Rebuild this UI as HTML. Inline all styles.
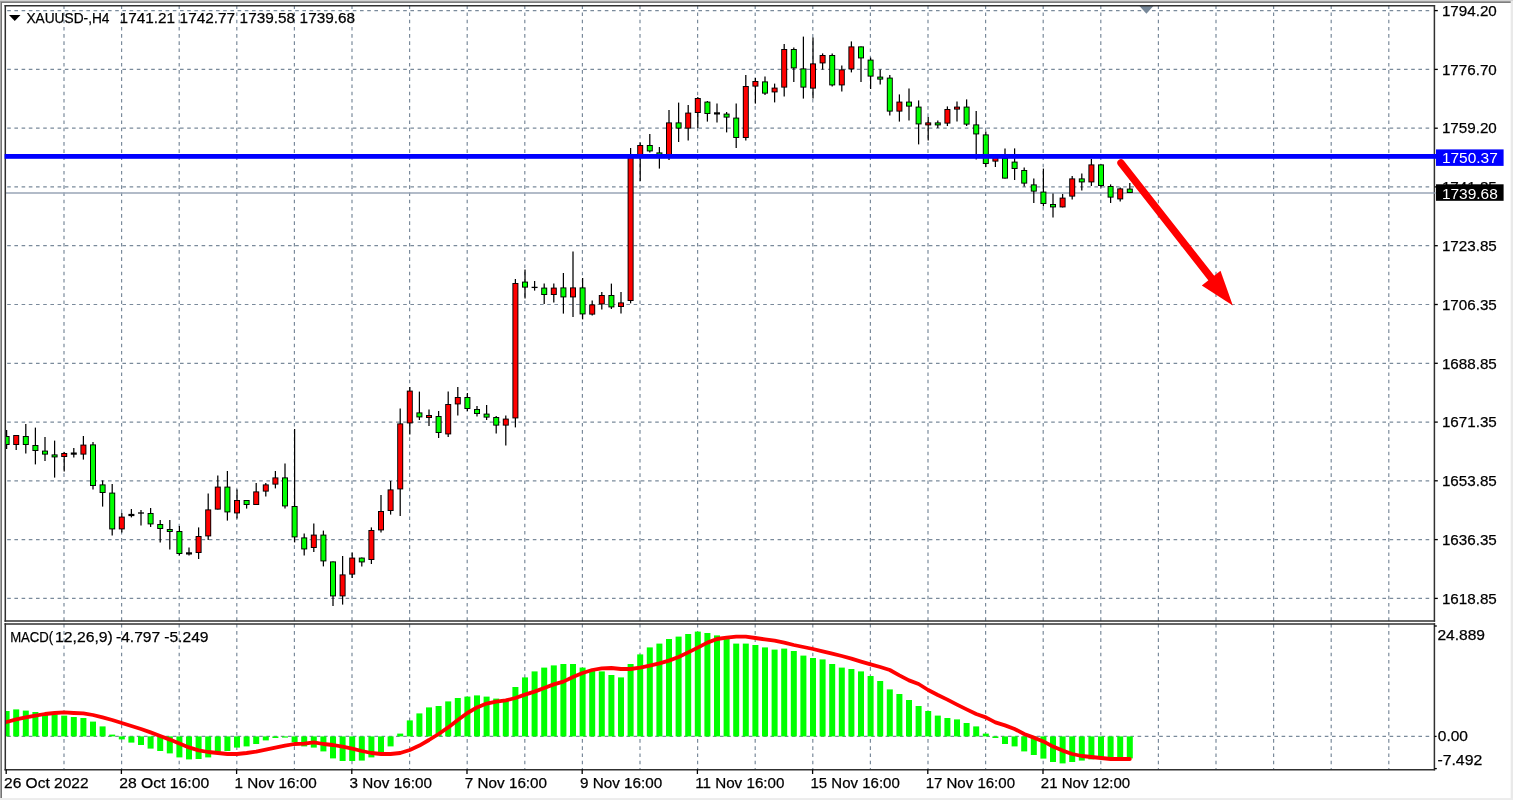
<!DOCTYPE html>
<html lang="en"><head><meta charset="utf-8"><title>XAUUSD-,H4</title>
<style>html,body{margin:0;padding:0;background:#fff;overflow:hidden}svg{display:block}text{font-family:"Liberation Sans",sans-serif;font-size:15.5px;fill:#000;stroke:#000;stroke-width:0.25px}</style>
</head><body>
<svg width="1513" height="800" viewBox="0 0 1513 800">
<rect x="0" y="0" width="1513" height="800" fill="#fff"/>
<g stroke="#7a8a9b" stroke-width="1.2" stroke-dasharray="3.6 3.6" fill="none">
<line x1="64.0" y1="5.3" x2="64.0" y2="621.0"/>
<line x1="64.0" y1="623.9" x2="64.0" y2="769.6"/>
<line x1="121.6" y1="5.3" x2="121.6" y2="621.0"/>
<line x1="121.6" y1="623.9" x2="121.6" y2="769.6"/>
<line x1="179.2" y1="5.3" x2="179.2" y2="621.0"/>
<line x1="179.2" y1="623.9" x2="179.2" y2="769.6"/>
<line x1="236.8" y1="5.3" x2="236.8" y2="621.0"/>
<line x1="236.8" y1="623.9" x2="236.8" y2="769.6"/>
<line x1="294.4" y1="5.3" x2="294.4" y2="621.0"/>
<line x1="294.4" y1="623.9" x2="294.4" y2="769.6"/>
<line x1="352.0" y1="5.3" x2="352.0" y2="621.0"/>
<line x1="352.0" y1="623.9" x2="352.0" y2="769.6"/>
<line x1="409.6" y1="5.3" x2="409.6" y2="621.0"/>
<line x1="409.6" y1="623.9" x2="409.6" y2="769.6"/>
<line x1="467.2" y1="5.3" x2="467.2" y2="621.0"/>
<line x1="467.2" y1="623.9" x2="467.2" y2="769.6"/>
<line x1="524.8" y1="5.3" x2="524.8" y2="621.0"/>
<line x1="524.8" y1="623.9" x2="524.8" y2="769.6"/>
<line x1="582.4" y1="5.3" x2="582.4" y2="621.0"/>
<line x1="582.4" y1="623.9" x2="582.4" y2="769.6"/>
<line x1="640.0" y1="5.3" x2="640.0" y2="621.0"/>
<line x1="640.0" y1="623.9" x2="640.0" y2="769.6"/>
<line x1="697.6" y1="5.3" x2="697.6" y2="621.0"/>
<line x1="697.6" y1="623.9" x2="697.6" y2="769.6"/>
<line x1="755.2" y1="5.3" x2="755.2" y2="621.0"/>
<line x1="755.2" y1="623.9" x2="755.2" y2="769.6"/>
<line x1="812.8" y1="5.3" x2="812.8" y2="621.0"/>
<line x1="812.8" y1="623.9" x2="812.8" y2="769.6"/>
<line x1="870.4" y1="5.3" x2="870.4" y2="621.0"/>
<line x1="870.4" y1="623.9" x2="870.4" y2="769.6"/>
<line x1="928.0" y1="5.3" x2="928.0" y2="621.0"/>
<line x1="928.0" y1="623.9" x2="928.0" y2="769.6"/>
<line x1="985.6" y1="5.3" x2="985.6" y2="621.0"/>
<line x1="985.6" y1="623.9" x2="985.6" y2="769.6"/>
<line x1="1043.2" y1="5.3" x2="1043.2" y2="621.0"/>
<line x1="1043.2" y1="623.9" x2="1043.2" y2="769.6"/>
<line x1="1100.8" y1="5.3" x2="1100.8" y2="621.0"/>
<line x1="1100.8" y1="623.9" x2="1100.8" y2="769.6"/>
<line x1="1158.4" y1="5.3" x2="1158.4" y2="621.0"/>
<line x1="1158.4" y1="623.9" x2="1158.4" y2="769.6"/>
<line x1="1216.0" y1="5.3" x2="1216.0" y2="621.0"/>
<line x1="1216.0" y1="623.9" x2="1216.0" y2="769.6"/>
<line x1="1273.6" y1="5.3" x2="1273.6" y2="621.0"/>
<line x1="1273.6" y1="623.9" x2="1273.6" y2="769.6"/>
<line x1="1331.2" y1="5.3" x2="1331.2" y2="621.0"/>
<line x1="1331.2" y1="623.9" x2="1331.2" y2="769.6"/>
<line x1="1388.8" y1="5.3" x2="1388.8" y2="621.0"/>
<line x1="1388.8" y1="623.9" x2="1388.8" y2="769.6"/>
<line x1="0" y1="10.6" x2="1431" y2="10.6"/>
<line x1="0" y1="69.4" x2="1431" y2="69.4"/>
<line x1="0" y1="128.2" x2="1431" y2="128.2"/>
<line x1="0" y1="186.9" x2="1431" y2="186.9"/>
<line x1="0" y1="245.7" x2="1431" y2="245.7"/>
<line x1="0" y1="304.5" x2="1431" y2="304.5"/>
<line x1="0" y1="363.3" x2="1431" y2="363.3"/>
<line x1="0" y1="422.1" x2="1431" y2="422.1"/>
<line x1="0" y1="480.8" x2="1431" y2="480.8"/>
<line x1="0" y1="539.6" x2="1431" y2="539.6"/>
<line x1="0" y1="598.4" x2="1431" y2="598.4"/>
<line x1="0" y1="736.4" x2="1431" y2="736.4"/>
</g>
<line x1="5.3" y1="193.0" x2="1434" y2="193.0" stroke="#98a5b6" stroke-width="1.3"/>
<g fill="#00ff00">
<rect x="5.6" y="711.0" width="4.0" height="25.4"/>
<rect x="13.2" y="709.4" width="6.0" height="27.0"/>
<rect x="22.8" y="710.6" width="6.0" height="25.8"/>
<rect x="32.4" y="712.0" width="6.0" height="24.4"/>
<rect x="42.0" y="714.0" width="6.0" height="22.4"/>
<rect x="51.6" y="714.4" width="6.0" height="22.0"/>
<rect x="61.2" y="715.6" width="6.0" height="20.8"/>
<rect x="70.8" y="717.0" width="6.0" height="19.4"/>
<rect x="80.4" y="718.0" width="6.0" height="18.4"/>
<rect x="90.0" y="721.6" width="6.0" height="14.8"/>
<rect x="99.6" y="726.4" width="6.0" height="10.0"/>
<rect x="109.2" y="734.6" width="6.0" height="1.8"/>
<rect x="118.8" y="736.4" width="6.0" height="3.0"/>
<rect x="128.4" y="736.4" width="6.0" height="6.2"/>
<rect x="138.0" y="736.4" width="6.0" height="8.6"/>
<rect x="147.6" y="736.4" width="6.0" height="12.2"/>
<rect x="157.2" y="736.4" width="6.0" height="14.6"/>
<rect x="166.8" y="736.4" width="6.0" height="17.0"/>
<rect x="176.4" y="736.4" width="6.0" height="21.0"/>
<rect x="186.0" y="736.4" width="6.0" height="23.0"/>
<rect x="195.6" y="736.4" width="6.0" height="22.6"/>
<rect x="205.2" y="736.4" width="6.0" height="21.0"/>
<rect x="214.8" y="736.4" width="6.0" height="17.2"/>
<rect x="224.4" y="736.4" width="6.0" height="14.6"/>
<rect x="234.0" y="736.4" width="6.0" height="11.2"/>
<rect x="243.6" y="736.4" width="6.0" height="10.0"/>
<rect x="253.2" y="736.4" width="6.0" height="7.6"/>
<rect x="262.8" y="736.4" width="6.0" height="4.0"/>
<rect x="272.4" y="736.4" width="6.0" height="1.6"/>
<rect x="282.0" y="736.4" width="6.0" height="1.2"/>
<rect x="291.6" y="736.4" width="6.0" height="6.0"/>
<rect x="301.2" y="736.4" width="6.0" height="10.0"/>
<rect x="310.8" y="736.4" width="6.0" height="11.2"/>
<rect x="320.4" y="736.4" width="6.0" height="15.0"/>
<rect x="330.0" y="736.4" width="6.0" height="22.0"/>
<rect x="339.6" y="736.4" width="6.0" height="24.6"/>
<rect x="349.2" y="736.4" width="6.0" height="24.6"/>
<rect x="358.8" y="736.4" width="6.0" height="24.2"/>
<rect x="368.4" y="736.4" width="6.0" height="21.0"/>
<rect x="378.0" y="736.4" width="6.0" height="17.2"/>
<rect x="387.6" y="736.4" width="6.0" height="10.0"/>
<rect x="397.2" y="733.6" width="6.0" height="2.8"/>
<rect x="406.8" y="720.4" width="6.0" height="16.0"/>
<rect x="416.4" y="713.4" width="6.0" height="23.0"/>
<rect x="426.0" y="707.4" width="6.0" height="29.0"/>
<rect x="435.6" y="706.0" width="6.0" height="30.4"/>
<rect x="445.2" y="701.4" width="6.0" height="35.0"/>
<rect x="454.8" y="698.0" width="6.0" height="38.4"/>
<rect x="464.4" y="696.6" width="6.0" height="39.8"/>
<rect x="474.0" y="695.4" width="6.0" height="41.0"/>
<rect x="483.6" y="696.6" width="6.0" height="39.8"/>
<rect x="493.2" y="698.6" width="6.0" height="37.8"/>
<rect x="502.8" y="699.2" width="6.0" height="37.2"/>
<rect x="512.4" y="687.0" width="6.0" height="49.4"/>
<rect x="522.0" y="677.4" width="6.0" height="59.0"/>
<rect x="531.6" y="671.4" width="6.0" height="65.0"/>
<rect x="541.2" y="667.6" width="6.0" height="68.8"/>
<rect x="550.8" y="665.4" width="6.0" height="71.0"/>
<rect x="560.4" y="664.0" width="6.0" height="72.4"/>
<rect x="570.0" y="664.0" width="6.0" height="72.4"/>
<rect x="579.6" y="667.6" width="6.0" height="68.8"/>
<rect x="589.2" y="670.4" width="6.0" height="66.0"/>
<rect x="598.8" y="671.4" width="6.0" height="65.0"/>
<rect x="608.4" y="675.0" width="6.0" height="61.4"/>
<rect x="618.0" y="677.4" width="6.0" height="59.0"/>
<rect x="627.6" y="664.0" width="6.0" height="72.4"/>
<rect x="637.2" y="654.4" width="6.0" height="82.0"/>
<rect x="646.8" y="647.4" width="6.0" height="89.0"/>
<rect x="656.4" y="643.6" width="6.0" height="92.8"/>
<rect x="666.0" y="639.0" width="6.0" height="97.4"/>
<rect x="675.6" y="636.6" width="6.0" height="99.8"/>
<rect x="685.2" y="634.0" width="6.0" height="102.4"/>
<rect x="694.8" y="631.6" width="6.0" height="104.8"/>
<rect x="704.4" y="633.0" width="6.0" height="103.4"/>
<rect x="714.0" y="635.4" width="6.0" height="101.0"/>
<rect x="723.6" y="639.0" width="6.0" height="97.4"/>
<rect x="733.2" y="643.6" width="6.0" height="92.8"/>
<rect x="742.8" y="643.6" width="6.0" height="92.8"/>
<rect x="752.4" y="645.0" width="6.0" height="91.4"/>
<rect x="762.0" y="647.4" width="6.0" height="89.0"/>
<rect x="771.6" y="649.6" width="6.0" height="86.8"/>
<rect x="781.2" y="648.6" width="6.0" height="87.8"/>
<rect x="790.8" y="651.0" width="6.0" height="85.4"/>
<rect x="800.4" y="655.6" width="6.0" height="80.8"/>
<rect x="810.0" y="658.0" width="6.0" height="78.4"/>
<rect x="819.6" y="659.4" width="6.0" height="77.0"/>
<rect x="829.2" y="664.0" width="6.0" height="72.4"/>
<rect x="838.8" y="667.6" width="6.0" height="68.8"/>
<rect x="848.4" y="669.0" width="6.0" height="67.4"/>
<rect x="858.0" y="671.4" width="6.0" height="65.0"/>
<rect x="867.6" y="676.0" width="6.0" height="60.4"/>
<rect x="877.2" y="681.0" width="6.0" height="55.4"/>
<rect x="886.8" y="689.4" width="6.0" height="47.0"/>
<rect x="896.4" y="694.0" width="6.0" height="42.4"/>
<rect x="906.0" y="700.0" width="6.0" height="36.4"/>
<rect x="915.6" y="706.0" width="6.0" height="30.4"/>
<rect x="925.2" y="711.0" width="6.0" height="25.4"/>
<rect x="934.8" y="715.6" width="6.0" height="20.8"/>
<rect x="944.4" y="718.0" width="6.0" height="18.4"/>
<rect x="954.0" y="719.4" width="6.0" height="17.0"/>
<rect x="963.6" y="723.0" width="6.0" height="13.4"/>
<rect x="973.2" y="726.4" width="6.0" height="10.0"/>
<rect x="982.8" y="733.6" width="6.0" height="2.8"/>
<rect x="992.4" y="736.4" width="6.0" height="1.6"/>
<rect x="1002.0" y="736.4" width="6.0" height="7.6"/>
<rect x="1011.6" y="736.4" width="6.0" height="10.0"/>
<rect x="1021.2" y="736.4" width="6.0" height="15.0"/>
<rect x="1030.8" y="736.4" width="6.0" height="18.6"/>
<rect x="1040.4" y="736.4" width="6.0" height="22.2"/>
<rect x="1050.0" y="736.4" width="6.0" height="25.6"/>
<rect x="1059.6" y="736.4" width="6.0" height="27.0"/>
<rect x="1069.2" y="736.4" width="6.0" height="25.6"/>
<rect x="1078.8" y="736.4" width="6.0" height="24.2"/>
<rect x="1088.4" y="736.4" width="6.0" height="23.0"/>
<rect x="1098.0" y="736.4" width="6.0" height="22.4"/>
<rect x="1107.6" y="736.4" width="6.0" height="22.4"/>
<rect x="1117.2" y="736.4" width="6.0" height="22.0"/>
<rect x="1126.8" y="736.4" width="6.0" height="22.0"/>
</g>
<polyline points="6.6,722.0 16.2,719.4 25.8,717.4 35.4,715.6 45.0,714.0 54.6,713.0 64.2,712.4 73.8,713.0 83.4,713.4 93.0,715.0 102.6,717.4 112.2,720.0 121.8,723.0 131.4,726.0 141.0,729.0 150.6,732.4 160.2,736.0 169.8,739.6 179.4,743.6 189.0,747.4 198.6,750.4 208.2,752.0 217.8,753.0 227.4,754.0 237.0,754.0 246.6,753.0 256.2,751.6 265.8,749.6 275.4,747.6 285.0,745.6 294.6,744.0 304.2,743.6 313.8,742.4 323.4,744.0 333.0,745.0 342.6,746.6 352.2,748.6 361.8,751.0 371.4,753.0 381.0,754.0 390.6,754.0 400.2,753.0 409.8,750.0 419.4,745.6 429.0,740.0 438.6,734.0 448.2,727.4 457.8,720.0 467.4,713.0 477.0,707.4 486.6,703.6 496.2,701.6 505.8,700.4 515.4,698.0 525.0,694.6 534.6,691.6 544.2,688.0 553.8,684.4 563.4,681.6 573.0,677.0 582.6,673.0 592.2,670.0 601.8,668.4 611.4,668.0 621.0,669.0 630.6,669.0 640.2,667.6 649.8,665.6 659.4,663.4 669.0,660.6 678.6,657.0 688.2,652.4 697.8,647.6 707.4,642.6 717.0,639.0 726.6,637.6 736.2,636.6 745.8,636.6 755.4,638.0 765.0,639.4 774.6,640.6 784.2,642.6 793.8,645.0 803.4,647.0 813.0,649.0 822.6,651.4 832.2,653.6 841.8,656.0 851.4,658.6 861.0,661.6 870.6,664.4 880.2,667.0 889.8,670.0 899.4,675.4 909.0,680.4 918.6,684.0 928.2,690.0 937.8,695.0 947.4,699.6 957.0,704.6 966.6,709.4 976.2,714.0 985.8,717.4 995.4,722.4 1005.0,725.4 1014.6,729.0 1024.2,734.0 1033.8,737.6 1043.4,741.4 1053.0,746.6 1062.6,750.6 1072.2,754.0 1081.8,756.0 1091.4,757.0 1101.0,758.0 1110.6,759.0 1120.2,759.0 1129.8,759.0" fill="none" stroke="#ff0000" stroke-width="3.8" stroke-linejoin="round" stroke-linecap="round"/>
<g stroke="#000" stroke-width="1.25">
<line x1="6.6" y1="430.0" x2="6.6" y2="449.0"/>
<line x1="16.2" y1="435.0" x2="16.2" y2="450.0"/>
<line x1="25.8" y1="424.0" x2="25.8" y2="453.6"/>
<line x1="35.4" y1="427.6" x2="35.4" y2="464.4"/>
<line x1="45.0" y1="437.0" x2="45.0" y2="461.0"/>
<line x1="54.6" y1="440.6" x2="54.6" y2="477.6"/>
<line x1="64.2" y1="452.0" x2="64.2" y2="471.6"/>
<line x1="73.8" y1="448.0" x2="73.8" y2="457.6"/>
<line x1="83.4" y1="436.0" x2="83.4" y2="459.6"/>
<line x1="93.0" y1="442.0" x2="93.0" y2="489.6"/>
<line x1="102.6" y1="480.4" x2="102.6" y2="506.6"/>
<line x1="112.2" y1="484.0" x2="112.2" y2="535.4"/>
<line x1="121.8" y1="513.0" x2="121.8" y2="532.4"/>
<line x1="131.4" y1="509.0" x2="131.4" y2="517.4"/>
<line x1="141.0" y1="510.0" x2="141.0" y2="525.6"/>
<line x1="150.6" y1="508.0" x2="150.6" y2="527.0"/>
<line x1="160.2" y1="520.0" x2="160.2" y2="542.4"/>
<line x1="169.8" y1="520.0" x2="169.8" y2="549.6"/>
<line x1="179.4" y1="526.0" x2="179.4" y2="555.4"/>
<line x1="189.0" y1="547.6" x2="189.0" y2="555.4"/>
<line x1="198.6" y1="527.4" x2="198.6" y2="559.0"/>
<line x1="208.2" y1="493.6" x2="208.2" y2="540.0"/>
<line x1="217.8" y1="475.6" x2="217.8" y2="509.6"/>
<line x1="227.4" y1="471.0" x2="227.4" y2="520.6"/>
<line x1="237.0" y1="489.6" x2="237.0" y2="518.6"/>
<line x1="246.6" y1="500.0" x2="246.6" y2="508.6"/>
<line x1="256.2" y1="483.0" x2="256.2" y2="505.0"/>
<line x1="265.8" y1="483.0" x2="265.8" y2="496.6"/>
<line x1="275.4" y1="471.0" x2="275.4" y2="488.4"/>
<line x1="285.0" y1="463.6" x2="285.0" y2="508.6"/>
<line x1="294.6" y1="429.0" x2="294.6" y2="542.4"/>
<line x1="304.2" y1="533.4" x2="304.2" y2="555.6"/>
<line x1="313.8" y1="523.6" x2="313.8" y2="552.0"/>
<line x1="323.4" y1="530.6" x2="323.4" y2="566.4"/>
<line x1="333.0" y1="561.4" x2="333.0" y2="606.0"/>
<line x1="342.6" y1="556.0" x2="342.6" y2="604.6"/>
<line x1="352.2" y1="552.6" x2="352.2" y2="578.0"/>
<line x1="361.8" y1="557.6" x2="361.8" y2="566.4"/>
<line x1="371.4" y1="527.4" x2="371.4" y2="564.0"/>
<line x1="381.0" y1="495.0" x2="381.0" y2="532.6"/>
<line x1="390.6" y1="481.0" x2="390.6" y2="514.6"/>
<line x1="400.2" y1="408.4" x2="400.2" y2="516.0"/>
<line x1="409.8" y1="387.0" x2="409.8" y2="434.4"/>
<line x1="419.4" y1="391.6" x2="419.4" y2="420.0"/>
<line x1="429.0" y1="409.6" x2="429.0" y2="426.0"/>
<line x1="438.6" y1="411.0" x2="438.6" y2="438.0"/>
<line x1="448.2" y1="391.6" x2="448.2" y2="437.0"/>
<line x1="457.8" y1="387.0" x2="457.8" y2="415.4"/>
<line x1="467.4" y1="393.0" x2="467.4" y2="411.0"/>
<line x1="477.0" y1="406.0" x2="477.0" y2="416.6"/>
<line x1="486.6" y1="405.0" x2="486.6" y2="420.0"/>
<line x1="496.2" y1="416.0" x2="496.2" y2="433.4"/>
<line x1="505.8" y1="415.6" x2="505.8" y2="445.6"/>
<line x1="515.4" y1="279.0" x2="515.4" y2="427.4"/>
<line x1="525.0" y1="269.6" x2="525.0" y2="298.6"/>
<line x1="534.6" y1="281.0" x2="534.6" y2="290.6"/>
<line x1="544.2" y1="283.6" x2="544.2" y2="304.0"/>
<line x1="553.8" y1="283.6" x2="553.8" y2="302.6"/>
<line x1="563.4" y1="273.0" x2="563.4" y2="313.6"/>
<line x1="573.0" y1="251.4" x2="573.0" y2="317.0"/>
<line x1="582.6" y1="278.0" x2="582.6" y2="319.4"/>
<line x1="592.2" y1="300.6" x2="592.2" y2="315.6"/>
<line x1="601.8" y1="292.0" x2="601.8" y2="309.6"/>
<line x1="611.4" y1="283.6" x2="611.4" y2="309.0"/>
<line x1="621.0" y1="292.0" x2="621.0" y2="313.6"/>
<line x1="630.6" y1="148.0" x2="630.6" y2="303.4"/>
<line x1="640.2" y1="142.4" x2="640.2" y2="181.0"/>
<line x1="649.8" y1="134.0" x2="649.8" y2="152.6"/>
<line x1="659.4" y1="147.0" x2="659.4" y2="168.6"/>
<line x1="669.0" y1="110.0" x2="669.0" y2="160.0"/>
<line x1="678.6" y1="102.6" x2="678.6" y2="142.0"/>
<line x1="688.2" y1="105.0" x2="688.2" y2="140.6"/>
<line x1="697.8" y1="97.0" x2="697.8" y2="128.0"/>
<line x1="707.4" y1="101.0" x2="707.4" y2="121.6"/>
<line x1="717.0" y1="103.6" x2="717.0" y2="122.6"/>
<line x1="726.6" y1="112.0" x2="726.6" y2="132.4"/>
<line x1="736.2" y1="103.6" x2="736.2" y2="148.0"/>
<line x1="745.8" y1="75.0" x2="745.8" y2="140.6"/>
<line x1="755.4" y1="78.0" x2="755.4" y2="103.6"/>
<line x1="765.0" y1="76.4" x2="765.0" y2="95.0"/>
<line x1="774.6" y1="83.6" x2="774.6" y2="102.4"/>
<line x1="784.2" y1="44.0" x2="784.2" y2="96.4"/>
<line x1="793.8" y1="47.4" x2="793.8" y2="82.0"/>
<line x1="803.4" y1="36.6" x2="803.4" y2="98.6"/>
<line x1="813.0" y1="37.6" x2="813.0" y2="98.6"/>
<line x1="822.6" y1="53.4" x2="822.6" y2="69.6"/>
<line x1="832.2" y1="53.6" x2="832.2" y2="86.6"/>
<line x1="841.8" y1="65.6" x2="841.8" y2="91.6"/>
<line x1="851.4" y1="41.4" x2="851.4" y2="72.4"/>
<line x1="861.0" y1="46.4" x2="861.0" y2="82.0"/>
<line x1="870.6" y1="57.6" x2="870.6" y2="89.0"/>
<line x1="880.2" y1="69.6" x2="880.2" y2="84.4"/>
<line x1="889.8" y1="75.0" x2="889.8" y2="115.6"/>
<line x1="899.4" y1="94.4" x2="899.4" y2="121.6"/>
<line x1="909.0" y1="88.4" x2="909.0" y2="120.4"/>
<line x1="918.6" y1="100.4" x2="918.6" y2="144.4"/>
<line x1="928.2" y1="117.0" x2="928.2" y2="140.6"/>
<line x1="937.8" y1="120.6" x2="937.8" y2="128.0"/>
<line x1="947.4" y1="106.4" x2="947.4" y2="126.0"/>
<line x1="957.0" y1="101.4" x2="957.0" y2="121.6"/>
<line x1="966.6" y1="99.4" x2="966.6" y2="126.0"/>
<line x1="976.2" y1="111.0" x2="976.2" y2="159.6"/>
<line x1="985.8" y1="131.6" x2="985.8" y2="167.0"/>
<line x1="995.4" y1="157.0" x2="995.4" y2="167.0"/>
<line x1="1005.0" y1="148.4" x2="1005.0" y2="178.6"/>
<line x1="1014.6" y1="148.4" x2="1014.6" y2="180.0"/>
<line x1="1024.2" y1="167.6" x2="1024.2" y2="186.6"/>
<line x1="1033.8" y1="178.4" x2="1033.8" y2="203.0"/>
<line x1="1043.4" y1="168.6" x2="1043.4" y2="206.4"/>
<line x1="1053.0" y1="193.6" x2="1053.0" y2="217.4"/>
<line x1="1062.6" y1="194.0" x2="1062.6" y2="207.4"/>
<line x1="1072.2" y1="176.0" x2="1072.2" y2="199.4"/>
<line x1="1081.8" y1="173.6" x2="1081.8" y2="190.6"/>
<line x1="1091.4" y1="159.0" x2="1091.4" y2="186.0"/>
<line x1="1101.0" y1="164.4" x2="1101.0" y2="187.6"/>
<line x1="1110.6" y1="184.4" x2="1110.6" y2="203.0"/>
<line x1="1120.2" y1="187.6" x2="1120.2" y2="201.6"/>
<line x1="1129.8" y1="183.0" x2="1129.8" y2="193.0"/>
</g>
<rect x="3.6" y="436.0" width="6" height="9.0" fill="#000"/>
<rect x="4.55" y="436.95" width="4.1" height="7.10" fill="#00ff00"/>
<rect x="13.2" y="435.0" width="6" height="10.0" fill="#000"/>
<rect x="14.15" y="435.95" width="4.1" height="8.10" fill="#ff0000"/>
<rect x="22.8" y="436.0" width="6" height="9.0" fill="#000"/>
<rect x="23.75" y="436.95" width="4.1" height="7.10" fill="#00ff00"/>
<rect x="32.4" y="445.0" width="6" height="6.0" fill="#000"/>
<rect x="33.35" y="445.95" width="4.1" height="4.10" fill="#00ff00"/>
<rect x="42.0" y="450.6" width="6" height="4.0" fill="#000"/>
<rect x="42.95" y="451.55" width="4.1" height="2.10" fill="#00ff00"/>
<rect x="51.6" y="454.4" width="6" height="3.0" fill="#000"/>
<rect x="52.55" y="455.35" width="4.1" height="1.10" fill="#00ff00"/>
<rect x="61.2" y="453.0" width="6" height="4.0" fill="#000"/>
<rect x="62.15" y="453.95" width="4.1" height="2.10" fill="#ff0000"/>
<rect x="70.8" y="452.50" width="6" height="2.2" fill="#000"/>
<rect x="80.4" y="444.6" width="6" height="10.0" fill="#000"/>
<rect x="81.35" y="445.55" width="4.1" height="8.10" fill="#ff0000"/>
<rect x="90.0" y="444.4" width="6" height="41.6" fill="#000"/>
<rect x="90.95" y="445.35" width="4.1" height="39.70" fill="#00ff00"/>
<rect x="99.6" y="484.4" width="6" height="8.6" fill="#000"/>
<rect x="100.55" y="485.35" width="4.1" height="6.70" fill="#00ff00"/>
<rect x="109.2" y="492.6" width="6" height="36.8" fill="#000"/>
<rect x="110.15" y="493.55" width="4.1" height="34.90" fill="#00ff00"/>
<rect x="118.8" y="516.6" width="6" height="12.8" fill="#000"/>
<rect x="119.75" y="517.55" width="4.1" height="10.90" fill="#ff0000"/>
<rect x="128.4" y="513.90" width="6" height="2.2" fill="#000"/>
<rect x="138.0" y="512.35" width="6" height="1.3" fill="#000"/>
<rect x="147.6" y="513.0" width="6" height="11.4" fill="#000"/>
<rect x="148.55" y="513.95" width="4.1" height="9.50" fill="#00ff00"/>
<rect x="157.2" y="524.0" width="6" height="5.0" fill="#000"/>
<rect x="158.15" y="524.95" width="4.1" height="3.10" fill="#00ff00"/>
<rect x="166.8" y="529.0" width="6" height="3.0" fill="#000"/>
<rect x="167.75" y="529.95" width="4.1" height="1.10" fill="#00ff00"/>
<rect x="176.4" y="531.0" width="6" height="23.0" fill="#000"/>
<rect x="177.35" y="531.95" width="4.1" height="21.10" fill="#00ff00"/>
<rect x="186.0" y="552.30" width="6" height="2.2" fill="#000"/>
<rect x="195.6" y="536.0" width="6" height="17.0" fill="#000"/>
<rect x="196.55" y="536.95" width="4.1" height="15.10" fill="#ff0000"/>
<rect x="205.2" y="509.4" width="6" height="27.0" fill="#000"/>
<rect x="206.15" y="510.35" width="4.1" height="25.10" fill="#ff0000"/>
<rect x="214.8" y="486.6" width="6" height="23.0" fill="#000"/>
<rect x="215.75" y="487.55" width="4.1" height="21.10" fill="#ff0000"/>
<rect x="224.4" y="486.6" width="6" height="25.8" fill="#000"/>
<rect x="225.35" y="487.55" width="4.1" height="23.90" fill="#00ff00"/>
<rect x="234.0" y="500.0" width="6" height="13.4" fill="#000"/>
<rect x="234.95" y="500.95" width="4.1" height="11.50" fill="#ff0000"/>
<rect x="243.6" y="500.0" width="6" height="5.0" fill="#000"/>
<rect x="244.55" y="500.95" width="4.1" height="3.10" fill="#00ff00"/>
<rect x="253.2" y="491.4" width="6" height="13.6" fill="#000"/>
<rect x="254.15" y="492.35" width="4.1" height="11.70" fill="#ff0000"/>
<rect x="262.8" y="484.4" width="6" height="7.2" fill="#000"/>
<rect x="263.75" y="485.35" width="4.1" height="5.30" fill="#ff0000"/>
<rect x="272.4" y="477.4" width="6" height="7.2" fill="#000"/>
<rect x="273.35" y="478.35" width="4.1" height="5.30" fill="#ff0000"/>
<rect x="282.0" y="477.4" width="6" height="29.0" fill="#000"/>
<rect x="282.95" y="478.35" width="4.1" height="27.10" fill="#00ff00"/>
<rect x="291.6" y="506.0" width="6" height="31.4" fill="#000"/>
<rect x="292.55" y="506.95" width="4.1" height="29.50" fill="#00ff00"/>
<rect x="301.2" y="537.4" width="6" height="12.0" fill="#000"/>
<rect x="302.15" y="538.35" width="4.1" height="10.10" fill="#00ff00"/>
<rect x="310.8" y="534.6" width="6" height="13.4" fill="#000"/>
<rect x="311.75" y="535.55" width="4.1" height="11.50" fill="#ff0000"/>
<rect x="320.4" y="534.6" width="6" height="26.8" fill="#000"/>
<rect x="321.35" y="535.55" width="4.1" height="24.90" fill="#00ff00"/>
<rect x="330.0" y="561.4" width="6" height="35.0" fill="#000"/>
<rect x="330.95" y="562.35" width="4.1" height="33.10" fill="#00ff00"/>
<rect x="339.6" y="574.4" width="6" height="22.0" fill="#000"/>
<rect x="340.55" y="575.35" width="4.1" height="20.10" fill="#ff0000"/>
<rect x="349.2" y="557.6" width="6" height="17.0" fill="#000"/>
<rect x="350.15" y="558.55" width="4.1" height="15.10" fill="#ff0000"/>
<rect x="358.8" y="557.6" width="6" height="4.8" fill="#000"/>
<rect x="359.75" y="558.55" width="4.1" height="2.90" fill="#00ff00"/>
<rect x="368.4" y="530.0" width="6" height="30.0" fill="#000"/>
<rect x="369.35" y="530.95" width="4.1" height="28.10" fill="#ff0000"/>
<rect x="378.0" y="511.0" width="6" height="19.4" fill="#000"/>
<rect x="378.95" y="511.95" width="4.1" height="17.50" fill="#ff0000"/>
<rect x="387.6" y="489.4" width="6" height="21.6" fill="#000"/>
<rect x="388.55" y="490.35" width="4.1" height="19.70" fill="#ff0000"/>
<rect x="397.2" y="423.4" width="6" height="66.0" fill="#000"/>
<rect x="398.15" y="424.35" width="4.1" height="64.10" fill="#ff0000"/>
<rect x="406.8" y="390.6" width="6" height="32.8" fill="#000"/>
<rect x="407.75" y="391.55" width="4.1" height="30.90" fill="#ff0000"/>
<rect x="416.4" y="412.4" width="6" height="5.0" fill="#000"/>
<rect x="417.35" y="413.35" width="4.1" height="3.10" fill="#00ff00"/>
<rect x="426.0" y="415.0" width="6" height="3.0" fill="#000"/>
<rect x="426.95" y="415.95" width="4.1" height="1.10" fill="#ff0000"/>
<rect x="435.6" y="416.0" width="6" height="17.0" fill="#000"/>
<rect x="436.55" y="416.95" width="4.1" height="15.10" fill="#00ff00"/>
<rect x="445.2" y="404.0" width="6" height="30.4" fill="#000"/>
<rect x="446.15" y="404.95" width="4.1" height="28.50" fill="#ff0000"/>
<rect x="454.8" y="397.0" width="6" height="7.4" fill="#000"/>
<rect x="455.75" y="397.95" width="4.1" height="5.50" fill="#ff0000"/>
<rect x="464.4" y="397.0" width="6" height="12.0" fill="#000"/>
<rect x="465.35" y="397.95" width="4.1" height="10.10" fill="#00ff00"/>
<rect x="474.0" y="409.0" width="6" height="5.0" fill="#000"/>
<rect x="474.95" y="409.95" width="4.1" height="3.10" fill="#00ff00"/>
<rect x="483.6" y="413.6" width="6" height="4.0" fill="#000"/>
<rect x="484.55" y="414.55" width="4.1" height="2.10" fill="#00ff00"/>
<rect x="493.2" y="417.0" width="6" height="8.6" fill="#000"/>
<rect x="494.15" y="417.95" width="4.1" height="6.70" fill="#00ff00"/>
<rect x="502.8" y="418.6" width="6" height="7.0" fill="#000"/>
<rect x="503.75" y="419.55" width="4.1" height="5.10" fill="#ff0000"/>
<rect x="512.4" y="283.0" width="6" height="135.4" fill="#000"/>
<rect x="513.35" y="283.95" width="4.1" height="133.50" fill="#ff0000"/>
<rect x="522.0" y="281.6" width="6" height="6.0" fill="#000"/>
<rect x="522.95" y="282.55" width="4.1" height="4.10" fill="#00ff00"/>
<rect x="531.6" y="286.75" width="6" height="1.3" fill="#000"/>
<rect x="541.2" y="287.6" width="6" height="7.4" fill="#000"/>
<rect x="542.15" y="288.55" width="4.1" height="5.50" fill="#00ff00"/>
<rect x="550.8" y="287.6" width="6" height="7.4" fill="#000"/>
<rect x="551.75" y="288.55" width="4.1" height="5.50" fill="#ff0000"/>
<rect x="560.4" y="287.4" width="6" height="10.0" fill="#000"/>
<rect x="561.35" y="288.35" width="4.1" height="8.10" fill="#00ff00"/>
<rect x="570.0" y="287.4" width="6" height="10.0" fill="#000"/>
<rect x="570.95" y="288.35" width="4.1" height="8.10" fill="#ff0000"/>
<rect x="579.6" y="287.4" width="6" height="27.0" fill="#000"/>
<rect x="580.55" y="288.35" width="4.1" height="25.10" fill="#00ff00"/>
<rect x="589.2" y="304.4" width="6" height="10.2" fill="#000"/>
<rect x="590.15" y="305.35" width="4.1" height="8.30" fill="#ff0000"/>
<rect x="598.8" y="295.0" width="6" height="9.4" fill="#000"/>
<rect x="599.75" y="295.95" width="4.1" height="7.50" fill="#ff0000"/>
<rect x="608.4" y="295.0" width="6" height="12.4" fill="#000"/>
<rect x="609.35" y="295.95" width="4.1" height="10.50" fill="#00ff00"/>
<rect x="618.0" y="302.4" width="6" height="4.6" fill="#000"/>
<rect x="618.95" y="303.35" width="4.1" height="2.70" fill="#ff0000"/>
<rect x="627.6" y="155.0" width="6" height="146.0" fill="#000"/>
<rect x="628.55" y="155.95" width="4.1" height="144.10" fill="#ff0000"/>
<rect x="637.2" y="145.0" width="6" height="11.0" fill="#000"/>
<rect x="638.15" y="145.95" width="4.1" height="9.10" fill="#ff0000"/>
<rect x="646.8" y="145.0" width="6" height="6.4" fill="#000"/>
<rect x="647.75" y="145.95" width="4.1" height="4.50" fill="#00ff00"/>
<rect x="656.4" y="152.4" width="6" height="3.2" fill="#000"/>
<rect x="657.35" y="153.35" width="4.1" height="1.30" fill="#00ff00"/>
<rect x="666.0" y="122.4" width="6" height="34.6" fill="#000"/>
<rect x="666.95" y="123.35" width="4.1" height="32.70" fill="#ff0000"/>
<rect x="675.6" y="122.4" width="6" height="6.2" fill="#000"/>
<rect x="676.55" y="123.35" width="4.1" height="4.30" fill="#00ff00"/>
<rect x="685.2" y="112.6" width="6" height="16.0" fill="#000"/>
<rect x="686.15" y="113.55" width="4.1" height="14.10" fill="#ff0000"/>
<rect x="694.8" y="98.0" width="6" height="15.0" fill="#000"/>
<rect x="695.75" y="98.95" width="4.1" height="13.10" fill="#ff0000"/>
<rect x="704.4" y="101.6" width="6" height="12.4" fill="#000"/>
<rect x="705.35" y="102.55" width="4.1" height="10.50" fill="#00ff00"/>
<rect x="714.0" y="112.30" width="6" height="2.2" fill="#000"/>
<rect x="723.6" y="113.6" width="6" height="4.0" fill="#000"/>
<rect x="724.55" y="114.55" width="4.1" height="2.10" fill="#00ff00"/>
<rect x="733.2" y="117.6" width="6" height="20.4" fill="#000"/>
<rect x="734.15" y="118.55" width="4.1" height="18.50" fill="#00ff00"/>
<rect x="742.8" y="86.0" width="6" height="52.0" fill="#000"/>
<rect x="743.75" y="86.95" width="4.1" height="50.10" fill="#ff0000"/>
<rect x="752.4" y="81.0" width="6" height="5.6" fill="#000"/>
<rect x="753.35" y="81.95" width="4.1" height="3.70" fill="#ff0000"/>
<rect x="762.0" y="81.4" width="6" height="12.2" fill="#000"/>
<rect x="762.95" y="82.35" width="4.1" height="10.30" fill="#00ff00"/>
<rect x="771.6" y="87.6" width="6" height="4.8" fill="#000"/>
<rect x="772.55" y="88.55" width="4.1" height="2.90" fill="#ff0000"/>
<rect x="781.2" y="49.0" width="6" height="38.6" fill="#000"/>
<rect x="782.15" y="49.95" width="4.1" height="36.70" fill="#ff0000"/>
<rect x="790.8" y="49.0" width="6" height="19.4" fill="#000"/>
<rect x="791.75" y="49.95" width="4.1" height="17.50" fill="#00ff00"/>
<rect x="800.4" y="68.4" width="6" height="19.2" fill="#000"/>
<rect x="801.35" y="69.35" width="4.1" height="17.30" fill="#00ff00"/>
<rect x="810.0" y="63.4" width="6" height="25.2" fill="#000"/>
<rect x="810.95" y="64.35" width="4.1" height="23.30" fill="#ff0000"/>
<rect x="819.6" y="55.0" width="6" height="8.4" fill="#000"/>
<rect x="820.55" y="55.95" width="4.1" height="6.50" fill="#ff0000"/>
<rect x="829.2" y="55.0" width="6" height="30.4" fill="#000"/>
<rect x="830.15" y="55.95" width="4.1" height="28.50" fill="#00ff00"/>
<rect x="838.8" y="69.4" width="6" height="16.0" fill="#000"/>
<rect x="839.75" y="70.35" width="4.1" height="14.10" fill="#ff0000"/>
<rect x="848.4" y="46.4" width="6" height="23.0" fill="#000"/>
<rect x="849.35" y="47.35" width="4.1" height="21.10" fill="#ff0000"/>
<rect x="858.0" y="46.4" width="6" height="12.0" fill="#000"/>
<rect x="858.95" y="47.35" width="4.1" height="10.10" fill="#00ff00"/>
<rect x="867.6" y="59.6" width="6" height="17.0" fill="#000"/>
<rect x="868.55" y="60.55" width="4.1" height="15.10" fill="#00ff00"/>
<rect x="877.2" y="76.6" width="6" height="3.0" fill="#000"/>
<rect x="878.15" y="77.55" width="4.1" height="1.10" fill="#00ff00"/>
<rect x="886.8" y="77.6" width="6" height="34.0" fill="#000"/>
<rect x="887.75" y="78.55" width="4.1" height="32.10" fill="#00ff00"/>
<rect x="896.4" y="101.6" width="6" height="10.0" fill="#000"/>
<rect x="897.35" y="102.55" width="4.1" height="8.10" fill="#ff0000"/>
<rect x="906.0" y="101.6" width="6" height="5.0" fill="#000"/>
<rect x="906.95" y="102.55" width="4.1" height="3.10" fill="#00ff00"/>
<rect x="915.6" y="106.6" width="6" height="17.8" fill="#000"/>
<rect x="916.55" y="107.55" width="4.1" height="15.90" fill="#00ff00"/>
<rect x="925.2" y="122.4" width="6" height="3.0" fill="#000"/>
<rect x="926.15" y="123.35" width="4.1" height="1.10" fill="#ff0000"/>
<rect x="934.8" y="122.4" width="6" height="3.0" fill="#000"/>
<rect x="935.75" y="123.35" width="4.1" height="1.10" fill="#00ff00"/>
<rect x="944.4" y="109.0" width="6" height="14.6" fill="#000"/>
<rect x="945.35" y="109.95" width="4.1" height="12.70" fill="#ff0000"/>
<rect x="954.0" y="106.6" width="6" height="3.0" fill="#000"/>
<rect x="954.95" y="107.55" width="4.1" height="1.10" fill="#ff0000"/>
<rect x="963.6" y="106.6" width="6" height="18.0" fill="#000"/>
<rect x="964.55" y="107.55" width="4.1" height="16.10" fill="#00ff00"/>
<rect x="973.2" y="124.4" width="6" height="10.0" fill="#000"/>
<rect x="974.15" y="125.35" width="4.1" height="8.10" fill="#00ff00"/>
<rect x="982.8" y="134.4" width="6" height="29.6" fill="#000"/>
<rect x="983.75" y="135.35" width="4.1" height="27.70" fill="#00ff00"/>
<rect x="992.4" y="157.0" width="6" height="4.6" fill="#000"/>
<rect x="993.35" y="157.95" width="4.1" height="2.70" fill="#ff0000"/>
<rect x="1002.0" y="158.0" width="6" height="20.6" fill="#000"/>
<rect x="1002.95" y="158.95" width="4.1" height="18.70" fill="#00ff00"/>
<rect x="1011.6" y="161.6" width="6" height="7.4" fill="#000"/>
<rect x="1012.55" y="162.55" width="4.1" height="5.50" fill="#00ff00"/>
<rect x="1021.2" y="170.0" width="6" height="13.6" fill="#000"/>
<rect x="1022.15" y="170.95" width="4.1" height="11.70" fill="#00ff00"/>
<rect x="1030.8" y="184.4" width="6" height="7.2" fill="#000"/>
<rect x="1031.75" y="185.35" width="4.1" height="5.30" fill="#00ff00"/>
<rect x="1040.4" y="191.6" width="6" height="12.4" fill="#000"/>
<rect x="1041.35" y="192.55" width="4.1" height="10.50" fill="#00ff00"/>
<rect x="1050.0" y="204.0" width="6" height="3.4" fill="#000"/>
<rect x="1050.95" y="204.95" width="4.1" height="1.50" fill="#00ff00"/>
<rect x="1059.6" y="197.6" width="6" height="9.8" fill="#000"/>
<rect x="1060.55" y="198.55" width="4.1" height="7.90" fill="#ff0000"/>
<rect x="1069.2" y="178.4" width="6" height="18.2" fill="#000"/>
<rect x="1070.15" y="179.35" width="4.1" height="16.30" fill="#ff0000"/>
<rect x="1078.8" y="178.4" width="6" height="4.0" fill="#000"/>
<rect x="1079.75" y="179.35" width="4.1" height="2.10" fill="#00ff00"/>
<rect x="1088.4" y="164.4" width="6" height="18.0" fill="#000"/>
<rect x="1089.35" y="165.35" width="4.1" height="16.10" fill="#ff0000"/>
<rect x="1098.0" y="164.4" width="6" height="21.6" fill="#000"/>
<rect x="1098.95" y="165.35" width="4.1" height="19.70" fill="#00ff00"/>
<rect x="1107.6" y="186.0" width="6" height="11.6" fill="#000"/>
<rect x="1108.55" y="186.95" width="4.1" height="9.70" fill="#00ff00"/>
<rect x="1117.2" y="188.4" width="6" height="11.0" fill="#000"/>
<rect x="1118.15" y="189.35" width="4.1" height="9.10" fill="#ff0000"/>
<rect x="1126.8" y="188.6" width="6" height="4.4" fill="#000"/>
<rect x="1127.75" y="189.55" width="4.1" height="2.50" fill="#00ff00"/>
<polygon points="1139.4,6 1153.4,6 1146.4,13.7" fill="#778899"/>
<line x1="1121" y1="163" x2="1218" y2="286.6" stroke="#ff0000" stroke-width="7.4" stroke-linecap="round"/>
<polygon points="1232.8,305.5 1201.8,285.5 1220.5,270.8" fill="#ff0000"/>
<g fill="#fff">
<rect x="0" y="0" width="5" height="800"/>
<rect x="0" y="0" width="1513" height="5"/>
<rect x="0" y="621.6" width="1434.4" height="2.2"/>
</g>
<g stroke="#303030" stroke-width="1.5" fill="none">
<line x1="5.3" y1="5" x2="5.3" y2="621.8"/>
<line x1="5.3" y1="623.2" x2="5.3" y2="770.3"/>
<line x1="4.5" y1="5.85" x2="1435.1000000000001" y2="5.85"/>
<line x1="1434.4" y1="5" x2="1434.4" y2="621.8"/>
<line x1="1434.4" y1="623.2" x2="1434.4" y2="770.3"/>
<line x1="4.5" y1="621.1" x2="1435.1000000000001" y2="621.1"/>
<line x1="4.5" y1="623.9" x2="1435.1000000000001" y2="623.9"/>
<line x1="4.5" y1="769.8" x2="1435.1000000000001" y2="769.8"/>
</g>
<line x1="1433" y1="193.0" x2="1436.2" y2="193.0" stroke="#98a5b6" stroke-width="1.3"/>
<rect x="4.6" y="154.0" width="1431.6" height="4.8" fill="#0000ff"/>
<g stroke="#000" stroke-width="1.3">
<line x1="1434.4" y1="10.6" x2="1437.8000000000002" y2="10.6"/>
<line x1="1434.4" y1="69.4" x2="1437.8000000000002" y2="69.4"/>
<line x1="1434.4" y1="128.2" x2="1437.8000000000002" y2="128.2"/>
<line x1="1434.4" y1="186.9" x2="1437.8000000000002" y2="186.9"/>
<line x1="1434.4" y1="245.7" x2="1437.8000000000002" y2="245.7"/>
<line x1="1434.4" y1="304.5" x2="1437.8000000000002" y2="304.5"/>
<line x1="1434.4" y1="363.3" x2="1437.8000000000002" y2="363.3"/>
<line x1="1434.4" y1="422.1" x2="1437.8000000000002" y2="422.1"/>
<line x1="1434.4" y1="480.8" x2="1437.8000000000002" y2="480.8"/>
<line x1="1434.4" y1="539.6" x2="1437.8000000000002" y2="539.6"/>
<line x1="1434.4" y1="598.4" x2="1437.8000000000002" y2="598.4"/>
<line x1="1434.4" y1="736.4" x2="1436.6000000000001" y2="736.4"/>
<line x1="1434.4" y1="626" x2="1436.8000000000002" y2="626"/>
<line x1="1434.4" y1="768.6" x2="1436.8000000000002" y2="768.6"/>
<line x1="6.2" y1="769.6" x2="6.2" y2="774"/>
<line x1="121.4" y1="769.6" x2="121.4" y2="774"/>
<line x1="236.6" y1="769.6" x2="236.6" y2="774"/>
<line x1="351.8" y1="769.6" x2="351.8" y2="774"/>
<line x1="467.0" y1="769.6" x2="467.0" y2="774"/>
<line x1="582.2" y1="769.6" x2="582.2" y2="774"/>
<line x1="697.4" y1="769.6" x2="697.4" y2="774"/>
<line x1="812.6" y1="769.6" x2="812.6" y2="774"/>
<line x1="927.8" y1="769.6" x2="927.8" y2="774"/>
<line x1="1043.0" y1="769.6" x2="1043.0" y2="774"/>
</g>
<rect x="0" y="0" width="1513" height="1" fill="#d3d3d3"/>
<rect x="0" y="1" width="1511" height="1" fill="#9c9c9c"/>
<rect x="1" y="2" width="1510" height="0.9" fill="#707070"/>
<rect x="0" y="1" width="1" height="797.2" fill="#a4a4a4"/>
<rect x="1" y="2" width="1" height="796.2" fill="#747474"/>
<rect x="1510.7" y="1" width="2.3" height="799" fill="#e9e9e9"/>
<rect x="0" y="798.1" width="1513" height="1.9" fill="#ececec"/>
<polygon points="9,15 20.5,15 14.75,21" fill="#000"/>
<text x="26.42" y="23.2" textLength="83.09" lengthAdjust="spacingAndGlyphs">XAUUSD-,H4</text>
<text x="119.61" y="23.2" textLength="55.51" lengthAdjust="spacingAndGlyphs">1741.21</text>
<text x="179.61" y="23.2" textLength="55.51" lengthAdjust="spacingAndGlyphs">1742.77</text>
<text x="239.61" y="23.2" textLength="55.51" lengthAdjust="spacingAndGlyphs">1739.58</text>
<text x="299.61" y="23.2" textLength="55.51" lengthAdjust="spacingAndGlyphs">1739.68</text>
<text x="1441.92" y="15.8" textLength="54.91" lengthAdjust="spacingAndGlyphs">1794.20</text>
<text x="1441.92" y="74.6" textLength="54.91" lengthAdjust="spacingAndGlyphs">1776.70</text>
<text x="1441.92" y="133.4" textLength="54.91" lengthAdjust="spacingAndGlyphs">1759.20</text>
<text x="1441.92" y="192.1" textLength="54.91" lengthAdjust="spacingAndGlyphs">1741.85</text>
<text x="1441.92" y="250.9" textLength="54.91" lengthAdjust="spacingAndGlyphs">1723.85</text>
<text x="1441.92" y="309.7" textLength="54.91" lengthAdjust="spacingAndGlyphs">1706.35</text>
<text x="1441.92" y="368.5" textLength="54.91" lengthAdjust="spacingAndGlyphs">1688.85</text>
<text x="1441.92" y="427.3" textLength="54.91" lengthAdjust="spacingAndGlyphs">1671.35</text>
<text x="1441.92" y="486.0" textLength="54.91" lengthAdjust="spacingAndGlyphs">1653.85</text>
<text x="1441.92" y="544.8" textLength="54.91" lengthAdjust="spacingAndGlyphs">1636.35</text>
<text x="1441.92" y="603.6" textLength="54.91" lengthAdjust="spacingAndGlyphs">1618.85</text>
<rect x="1436" y="149.4" width="67.6" height="16.5" fill="#0000ff"/>
<text x="1441.90" y="162.9" textLength="55.93" lengthAdjust="spacingAndGlyphs" style="fill:#fff;stroke:none">1750.37</text>
<rect x="1436" y="184.3" width="67.6" height="16.5" fill="#000"/>
<text x="1441.90" y="198.6" textLength="55.93" lengthAdjust="spacingAndGlyphs" style="fill:#fff;stroke:none">1739.68</text>
<text x="1437.40" y="639.8" textLength="47.63" lengthAdjust="spacingAndGlyphs">24.889</text>
<text x="1437.80" y="741.4" textLength="30.17" lengthAdjust="spacingAndGlyphs">0.00</text>
<text x="1437.38" y="765.1" textLength="44.89" lengthAdjust="spacingAndGlyphs">-7.492</text>
<text x="10.15" y="642.2" textLength="43.09" lengthAdjust="spacingAndGlyphs">MACD(</text>
<text x="55.09" y="642.2" textLength="57.72" lengthAdjust="spacingAndGlyphs">12,26,9)</text>
<text x="116.00" y="642.2" textLength="44.16" lengthAdjust="spacingAndGlyphs">-4.797</text>
<text x="164.19" y="642.2" textLength="44.37" lengthAdjust="spacingAndGlyphs">-5.249</text>
<text x="4.00" y="788.4" textLength="84.55" lengthAdjust="spacingAndGlyphs">26 Oct 2022</text>
<text x="119.19" y="788.4" textLength="89.99" lengthAdjust="spacingAndGlyphs">28 Oct 16:00</text>
<text x="234.42" y="788.4" textLength="82.27" lengthAdjust="spacingAndGlyphs">1 Nov 16:00</text>
<text x="349.62" y="788.4" textLength="82.27" lengthAdjust="spacingAndGlyphs">3 Nov 16:00</text>
<text x="464.82" y="788.4" textLength="82.27" lengthAdjust="spacingAndGlyphs">7 Nov 16:00</text>
<text x="580.02" y="788.4" textLength="82.27" lengthAdjust="spacingAndGlyphs">9 Nov 16:00</text>
<text x="695.22" y="788.4" textLength="89.24" lengthAdjust="spacingAndGlyphs">11 Nov 16:00</text>
<text x="810.43" y="788.4" textLength="89.38" lengthAdjust="spacingAndGlyphs">15 Nov 16:00</text>
<text x="925.63" y="788.4" textLength="89.38" lengthAdjust="spacingAndGlyphs">17 Nov 16:00</text>
<text x="1040.83" y="788.4" textLength="89.38" lengthAdjust="spacingAndGlyphs">21 Nov 12:00</text>
</svg></body></html>
